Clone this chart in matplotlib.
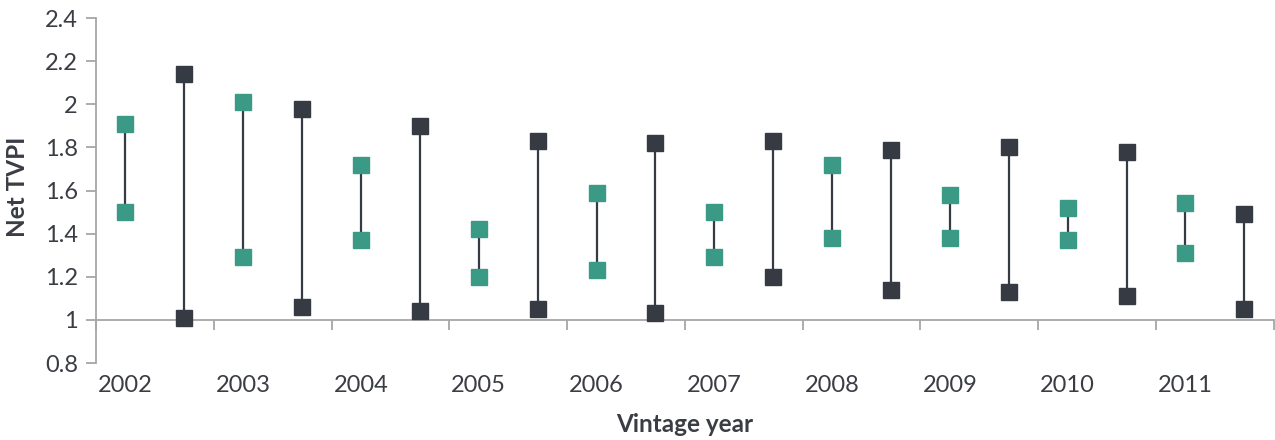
import matplotlib.pyplot as plt
import matplotlib.transforms as mtransforms
import numpy as np

# vintage years
years = ["2002", "2003", "2004", "2005", "2006", "2007", "2008", "2009", "2010", "2011"]

# green series (high / low)
green_high = [1.91, 2.01, 1.72, 1.42, 1.59, 1.50, 1.72, 1.58, 1.52, 1.54]
green_low = [1.50, 1.29, 1.37, 1.20, 1.23, 1.29, 1.38, 1.38, 1.37, 1.31]

# dark series (high / low)
dark_high = [2.14, 1.98, 1.90, 1.83, 1.82, 1.83, 1.79, 1.80, 1.78, 1.49]
dark_low = [1.01, 1.06, 1.04, 1.05, 1.03, 1.20, 1.14, 1.13, 1.11, 1.05]

GREEN = "#3a9a86"
DARK = "#363a43"
AXIS = "#a6a6a6"
TEXT = "#3a3d44"

plt.rcParams['font.family'] = ['Lato', 'DejaVu Sans']

fig = plt.figure(figsize=(12.75, 4.4), dpi=100)
ax = fig.add_axes([0.0753, 0.175, 0.9237, 0.784])

x = np.arange(len(years))
xg = x
xd = x + 0.5

# connecting lines
ax.vlines(xg, green_low, green_high, color=DARK, lw=1.6, zorder=2)
ax.vlines(xd, dark_low, dark_high, color=DARK, lw=1.6, zorder=2)

# markers
for lo, hi, xs, c in [(green_low, green_high, xg, GREEN), (dark_low, dark_high, xd, DARK)]:
    ax.plot(xs, hi, 's', color=c, ms=11.5, zorder=3, clip_on=False)
    ax.plot(xs, lo, 's', color=c, ms=11.5, zorder=3, clip_on=False)

ax.set_xlim(-0.25, len(years) - 0.25)
ax.set_ylim(0.8, 2.4)

# y axis
ax.set_yticks(np.arange(0.8, 2.41, 0.2))
ax.set_yticklabels(["0.8", "1", "1.2", "1.4", "1.6", "1.8", "2", "2.2", "2.4"])
ax.tick_params(axis='y', direction='out', length=7, width=1.3, color=AXIS,
               labelsize=17, labelcolor=TEXT, pad=6)

# x axis crosses at y = 1
for s in ['top', 'right']:
    ax.spines[s].set_visible(False)
ax.spines['left'].set_color(AXIS)
ax.spines['left'].set_linewidth(1.3)
ax.spines['bottom'].set_position(('data', 1))
ax.spines['bottom'].set_color(AXIS)
ax.spines['bottom'].set_linewidth(1.3)
ax.set_xticks(np.arange(len(years) + 1) - 0.25)
ax.set_xticklabels([])
ax.tick_params(axis='x', direction='out', length=7, width=1.3, color=AXIS)

# category labels below the plot area
trans = mtransforms.blended_transform_factory(ax.transData, ax.transAxes)
for xi, yr in zip(x, years):
    ax.text(xi, -0.065, yr, transform=trans, ha='center', va='center',
            fontsize=17, color=TEXT)

fig.text(0.014, 0.575, "Net TVPI", rotation=90, ha='center', va='center',
         fontsize=17.5, fontweight='bold', color=TEXT)
fig.text(0.537, 0.035, "Vintage year", ha='center', va='center',
         fontsize=17.5, fontweight='bold', color=TEXT)

fig.savefig("out.png", dpi=100)
